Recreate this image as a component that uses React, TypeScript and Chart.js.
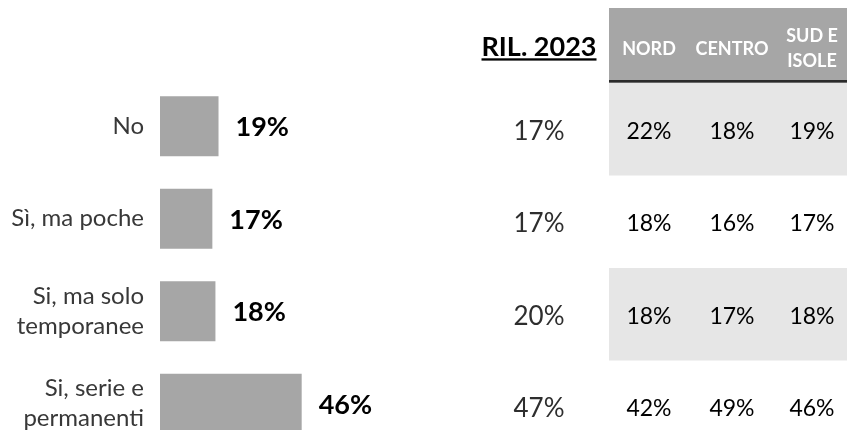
import React, { useEffect, useRef } from 'react';
import { Chart, registerables } from 'chart.js';

Chart.register(...registerables);

// ---- data ----
const categories: string[][] = [
  ['No'],
  ['Sì, ma poche'],
  ['Si, ma solo', 'temporanee'],
  ['Si, serie e', 'permanenti'],
];
const totalValues = [19, 17, 18, 46];
const ril2023Values = [17, 17, 20, 47];
const nordValues = [22, 18, 18, 42];
const centroValues = [18, 16, 17, 49];
const sudIsoleValues = [19, 17, 18, 46];
const rilHeader = 'RIL. 2023';
const regionHeaders: string[][] = [['NORD'], ['CENTRO'], ['SUD E', 'ISOLE']];

const FONT = 'Lato, "Open Sans", sans-serif';

const tablePlugin = {
  id: 'sideTable',
  afterDraw(chart: any) {
    const ctx: CanvasRenderingContext2D = chart.ctx;
    const yScale = chart.scales.y;
    const W = chart.width;
    const step = yScale.getPixelForTick(1) - yScale.getPixelForTick(0);
    const tableLeft = 609;
    const rowShift = 3;
    const textShift = 2;
    const rilX = 539;
    const regionX = [649, 732, 812];
    const regionCols = [nordValues, centroValues, sudIsoleValues];

    ctx.save();
    // alternating bands
    ctx.fillStyle = '#e6e6e6';
    totalValues.forEach((_, i) => {
      if (i % 2 === 0) {
        const c = yScale.getPixelForTick(i) + rowShift;
        ctx.fillRect(tableLeft, c - step / 2, W - tableLeft, step);
      }
    });
    // header
    const headTop = 8;
    const headBottom = yScale.getPixelForTick(0) + rowShift - step / 2;
    ctx.fillStyle = '#a6a6a6';
    ctx.fillRect(tableLeft, headTop, W - tableLeft, headBottom - headTop);
    ctx.fillStyle = '#2b2b2b';
    ctx.fillRect(tableLeft, headBottom - 3, W - tableLeft, 2.5);

    ctx.fillStyle = '#ffffff';
    ctx.font = `bold 18px ${FONT}`;
    ctx.textAlign = 'center';
    ctx.textBaseline = 'middle';
    regionHeaders.forEach((lines, j) => {
      const lh = 25;
      const cy = 49;
      lines.forEach((t, k) => {
        ctx.fillText(t, regionX[j], cy + (k - (lines.length - 1) / 2) * lh);
      });
    });

    // RIL header
    ctx.fillStyle = '#000000';
    ctx.font = `bold 27px ${FONT}`;
    ctx.textBaseline = 'alphabetic';
    ctx.fillText(rilHeader, rilX, 56);
    const w = ctx.measureText(rilHeader).width;
    ctx.fillRect(rilX - w / 2, 58.3, w, 2.3);

    // values
    ctx.textBaseline = 'middle';
    totalValues.forEach((_, i) => {
      const c = yScale.getPixelForTick(i) + rowShift + textShift;
      ctx.fillStyle = '#2e2e2e';
      ctx.font = `26px ${FONT}`;
      ctx.fillText(`${ril2023Values[i]}%`, rilX, c);
      ctx.fillStyle = '#000000';
      ctx.font = `23px ${FONT}`;
      regionCols.forEach((col, j) => {
        ctx.fillText(`${col[i]}%`, regionX[j], c);
      });
    });

    // bar value labels
    const meta = chart.getDatasetMeta(0);
    ctx.fillStyle = '#000000';
    ctx.font = `bold 27px ${FONT}`;
    ctx.textAlign = 'left';
    meta.data.forEach((el: any, i: number) => {
      ctx.fillText(`${totalValues[i]}%`, el.x + 17, el.y + 1.5);
    });
    ctx.restore();
  },
};

export default function App() {
  const ref = useRef<HTMLCanvasElement | null>(null);

  useEffect(() => {
    if (!ref.current) return;
    const chart = new Chart(ref.current, {
      type: 'bar',
      data: {
        labels: categories,
        datasets: [
          {
            data: totalValues,
            backgroundColor: '#a6a6a6',
            borderWidth: 0,
            barPercentage: 0.648,
            categoryPercentage: 1,
          },
        ],
      },
      options: {
        indexAxis: 'y',
        responsive: true,
        maintainAspectRatio: false,
        animation: false,
        layout: { padding: { top: 80, bottom: 0, left: 0, right: 379 } },
        plugins: { legend: { display: false }, tooltip: { enabled: false } },
        scales: {
          x: { display: false, min: 0, max: 100 },
          y: {
            afterFit: (scale: any) => {
              scale.width = 160;
            },
            grid: { display: false, drawTicks: false },
            border: { display: false },
            ticks: {
              padding: 16,
              color: '#383838',
              font: { family: FONT, size: 24, lineHeight: 1.25 },
            },
          },
        },
      },
      plugins: [tablePlugin],
    } as any);
    return () => chart.destroy();
  }, []);

  return (
    <div
      style={{
        position: 'absolute',
        left: 0,
        top: 0,
        width: 847,
        height: 430,
        overflow: 'hidden',
        background: '#ffffff',
      }}
    >
      <div style={{ position: 'relative', width: 847, height: 481 }}>
        <canvas ref={ref} />
      </div>
    </div>
  );
}
